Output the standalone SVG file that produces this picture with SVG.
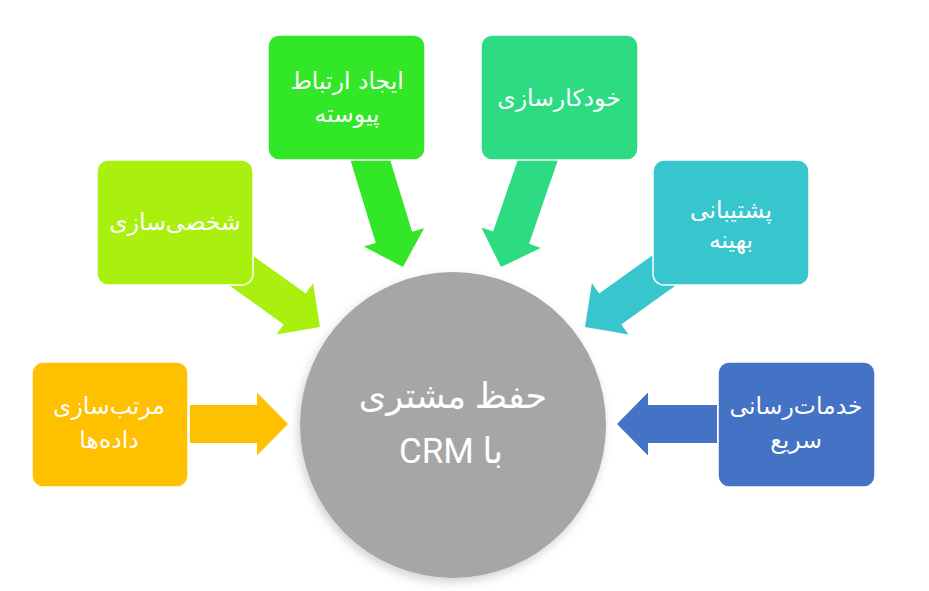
<svg xmlns="http://www.w3.org/2000/svg" width="929" height="591" viewBox="0 0 929 591">
<defs>
<style>
.box{stroke:#ffffff;stroke-width:1.5}
.t{font-family:"DejaVu Sans","Noto Sans",sans-serif;font-size:23.5px;fill:#ffffff;text-anchor:middle;direction:rtl;unicode-bidi:embed}
.c{font-family:Roboto,"DejaVu Sans",sans-serif;font-size:35px;fill:#ffffff;text-anchor:middle;direction:rtl;unicode-bidi:embed}
</style>
<filter id="sh" x="-20%" y="-20%" width="140%" height="140%">
<feDropShadow dx="-2" dy="4" stdDeviation="5" flood-color="#000" flood-opacity="0.18"/>
</filter>
</defs>
<rect width="929" height="591" fill="#ffffff"/>
<g id="connectors">
<polygon fill="#ffc000" points="-98,-19 -31,-19 -31,-31.5 0,0 -31,31.5 -31,19 -98,19" transform="translate(288,424)"/>
<polygon fill="#4472c4" points="-100,-19 -31,-19 -31,-31.5 0,0 -31,31.5 -31,19 -100,19" transform="translate(617,424) rotate(180)"/>
<polygon fill="#aaf00e" points="-112,-19 -31,-19 -31,-31.5 0,0 -31,31.5 -31,19 -112,19" transform="translate(320,327) rotate(35.6)"/>
<polygon fill="#37c6ce" points="-112,-19 -31,-19 -31,-31.5 0,0 -31,31.5 -31,19 -112,19" transform="translate(585,327) rotate(144.4)"/>
<polygon fill="#32e628" points="-135,-19 -31,-19 -31,-31.5 0,0 -31,31.5 -31,19 -135,19" transform="translate(403,267) rotate(73)"/>
<polygon fill="#2ddc82" points="-135,-19 -31,-19 -31,-31.5 0,0 -31,31.5 -31,19 -135,19" transform="translate(501,267) rotate(109)"/>
</g>
<g id="center">
<circle cx="453" cy="425" r="153" fill="#a6a6a6" filter="url(#sh)"/>
<text class="c" x="453" y="408">حفظ مشتری</text>
<text class="c" x="451" y="463">با CRM</text>
</g>
<g id="node-data">
<rect class="box" x="32" y="362" width="156" height="125" rx="11" fill="#ffc000"/>
<text class="t" x="109" y="414">مرتب‌سازی</text>
<text class="t" x="109" y="448">داده‌ها</text>
</g>
<g id="node-personal">
<rect class="box" x="97" y="160" width="156" height="125" rx="11" fill="#aaf00e"/>
<text class="t" x="175" y="230">شخصی‌سازی</text>
</g>
<g id="node-relation">
<rect class="box" x="268" y="35" width="157" height="125" rx="11" fill="#32e628"/>
<text class="t" x="347" y="89">ایجاد ارتباط</text>
<text class="t" x="347" y="122">پیوسته</text>
</g>
<g id="node-automation">
<rect class="box" x="481" y="35" width="157" height="125" rx="11" fill="#2ddc82"/>
<text class="t" x="559" y="106">خودکارسازی</text>
</g>
<g id="node-support">
<rect class="box" x="653" y="160" width="156" height="125" rx="11" fill="#37c6ce"/>
<text class="t" x="731" y="218">پشتیبانی</text>
<text class="t" x="731" y="248">بهینه</text>
</g>
<g id="node-service">
<rect class="box" x="718" y="362" width="157" height="125" rx="11" fill="#4472c4"/>
<text class="t" x="796" y="414">خدمات‌رسانی</text>
<text class="t" x="796" y="448">سریع</text>
</g>
</svg>
